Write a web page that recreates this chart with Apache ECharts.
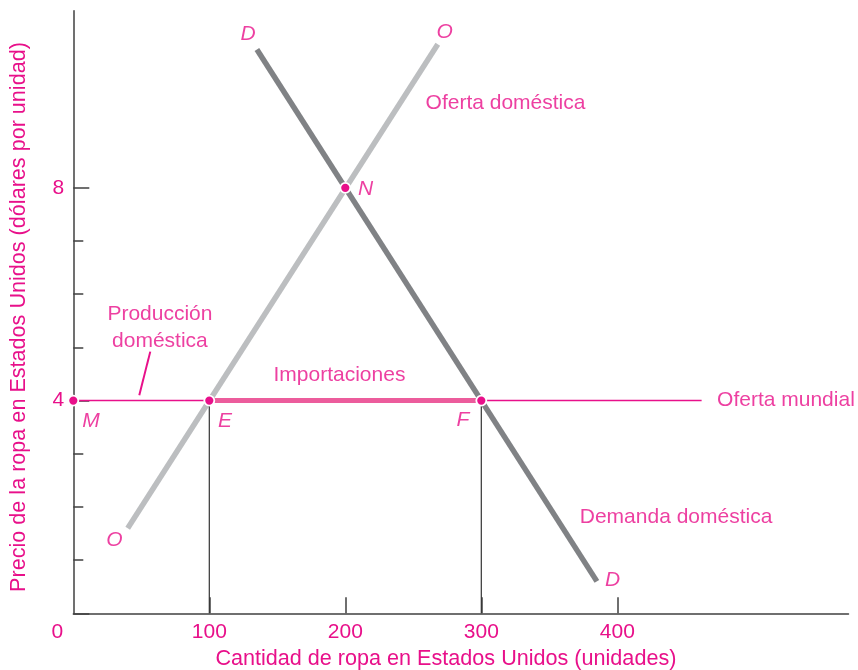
<!DOCTYPE html>
<html>
<head>
<meta charset="utf-8">
<script src="https://cdn.jsdelivr.net/npm/echarts@6/dist/echarts.min.js"></script>
<style>html,body{margin:0;padding:0;background:#fff}#c{width:858px;height:670px}</style>
</head>
<body>
<div id="c"></div>
<script>
// ---- data ----
const quantityTickLabels = [0, 100, 200, 300, 400];
const quantityTickMarks = [100, 200, 300, 400];
const priceTickLabels = [4, 8];
const priceMajorTicks = [0, 4, 8];
const priceMinorTicks = [1, 2, 3, 5, 6, 7];

const supplyQty = [40, 268];
const supplyPrice = [1.6, 10.7];
const demandQty = [135, 385];
const demandPrice = [10.6, 0.6];

const worldPrice = 4;
const worldSupplyQty = [0, 462];
const importQty = [100, 300];

const pointNames = ['M', 'E', 'F', 'N'];
const pointQty = [0, 100, 300, 200];
const pointPrice = [4, 4, 4, 8];

const letterText = ['D', 'O', 'N', 'M', 'E', 'F', 'O', 'D'];
const letterQty = [128.5, 273, 215, 13, 111.5, 286.5, 30.3, 396.5];
const letterPrice = [10.89, 10.93, 7.98, 3.62, 3.62, 3.64, 1.37, 0.63];

const noteText = ['Oferta doméstica', 'Producción\ndoméstica', 'Importaciones', 'Oferta mundial', 'Demanda doméstica'];
const noteQty = [317.8, 63.7, 195.7, 524, 443.2];
const notePrice = [9.6, 5.37, 4.48, 4.0, 1.8];

const leaderQty = [56.6, 48.5];
const leaderPrice = [4.92, 4.10];

const xName = 'Cantidad de ropa en Estados Unidos (unidades)';
const yName = 'Precio de la ropa en Estados Unidos (dólares por unidad)';

// ---- styles ----
const PINK = '#e8108a';
const FONT = 'Liberation Sans, Arial, sans-serif';
const AXIS = '#404040';

const zip = (a, b) => a.map((v, i) => [v, b[i]]);

const chart = echarts.init(document.getElementById('c'), null, {renderer: 'canvas'});

const option = {
  animation: false,
  grid: {left: 73.3, right: 9.5, top: 10.7, bottom: 56.7, containLabel: false, outerBoundsMode: 'none'},
  xAxis: [
    {
      type: 'value', min: 0, max: 570, position: 'bottom',
      axisLine: {show: true, lineStyle: {color: AXIS, width: 1.5}},
      axisTick: {show: true, inside: true, length: 16, customValues: quantityTickMarks, lineStyle: {color: AXIS, width: 1.5}},
      axisLabel: {
        show: true, customValues: quantityTickLabels, margin: 8,
        color: PINK, fontSize: 21, fontFamily: FONT,
        formatter: v => v === 0 ? '{z|0}' : String(v),
        rich: {z: {color: PINK, fontSize: 21, fontFamily: FONT, padding: [0, 32, 0, 0]}}
      },
      splitLine: {show: false},
      name: xName, nameLocation: 'middle', nameGap: 35,
      nameTextStyle: {color: PINK, fontSize: 21.6, fontFamily: FONT, padding: [0, 30, 0, 0]}
    }
  ],
  yAxis: [
    {
      type: 'value', min: 0, max: 11.33, position: 'left',
      axisLine: {show: true, lineStyle: {color: AXIS, width: 1.5}},
      axisTick: {show: true, inside: true, length: 10, customValues: priceMinorTicks, lineStyle: {color: AXIS, width: 1.5}},
      axisLabel: {show: false},
      splitLine: {show: false},
      name: yName, nameLocation: 'middle', nameGap: 43,
      nameTextStyle: {color: PINK, fontSize: 21.6, fontFamily: FONT, padding: [0, 10, 0, 0]}
    },
    {
      type: 'value', min: 0, max: 11.33, position: 'left', offset: 0,
      axisLine: {show: false},
      axisTick: {show: true, inside: true, length: 16, customValues: priceMajorTicks, lineStyle: {color: AXIS, width: 1.5}},
      axisLabel: {show: true, customValues: priceTickLabels, margin: 9, color: PINK, fontSize: 21, fontFamily: FONT},
      splitLine: {show: false}
    }
  ],
  series: [
    {
      name: 'Oferta doméstica', type: 'line', data: zip(supplyQty, supplyPrice),
      symbol: 'none', lineStyle: {color: '#bcbec0', width: 5.5, cap: 'butt'}, z: 2, silent: true
    },
    {
      name: 'Demanda doméstica', type: 'line', data: zip(demandQty, demandPrice),
      symbol: 'none', lineStyle: {color: '#808285', width: 5.5, cap: 'butt'}, z: 2, silent: true
    },
    {
      name: 'Oferta mundial', type: 'line', data: zip(worldSupplyQty, worldSupplyQty.map(() => worldPrice)),
      symbol: 'none', lineStyle: {color: PINK, width: 1.5}, z: 3, silent: true
    },
    {
      name: 'Importaciones', type: 'line', data: zip(importQty, importQty.map(() => worldPrice)),
      symbol: 'none', lineStyle: {color: '#ec5c9c', width: 5, cap: 'butt'}, z: 4, silent: true
    },
    {
      name: 'guíaE', type: 'line', data: [[importQty[0], worldPrice], [importQty[0], 0]],
      symbol: 'none', lineStyle: {color: '#333333', width: 1.2}, z: 3, silent: true
    },
    {
      name: 'guíaF', type: 'line', data: [[importQty[1], worldPrice], [importQty[1], 0]],
      symbol: 'none', lineStyle: {color: '#333333', width: 1.2}, z: 3, silent: true
    },
    {
      name: 'leader', type: 'line', data: zip(leaderQty, leaderPrice),
      symbol: 'none', lineStyle: {color: PINK, width: 2}, z: 3, silent: true
    },
    {
      name: 'puntos', type: 'scatter', data: zip(pointQty, pointPrice),
      symbol: 'circle', symbolSize: 10,
      itemStyle: {color: PINK, borderColor: '#ffffff', borderWidth: 1.8, opacity: 1},
      z: 6, silent: true
    },
    {
      name: 'letras', type: 'scatter', data: zip(letterQty, letterPrice).map((p, i) => ({value: p, name: letterText[i]})),
      symbolSize: 1, itemStyle: {color: 'rgba(0,0,0,0)'},
      label: {show: true, position: 'inside', formatter: p => p.name, color: PINK, fontSize: 21, fontStyle: 'italic', fontFamily: FONT},
      z: 7, silent: true
    },
    {
      name: 'notas', type: 'scatter', data: zip(noteQty, notePrice).map((p, i) => ({value: p, name: noteText[i]})),
      symbolSize: 1, itemStyle: {color: 'rgba(0,0,0,0)'},
      label: {show: true, position: 'inside', formatter: p => p.name, color: PINK, fontSize: 21, fontFamily: FONT, lineHeight: 27, align: 'center'},
      z: 7, silent: true
    }
  ]
};
chart.setOption(option);
</script>
</body>
</html>
